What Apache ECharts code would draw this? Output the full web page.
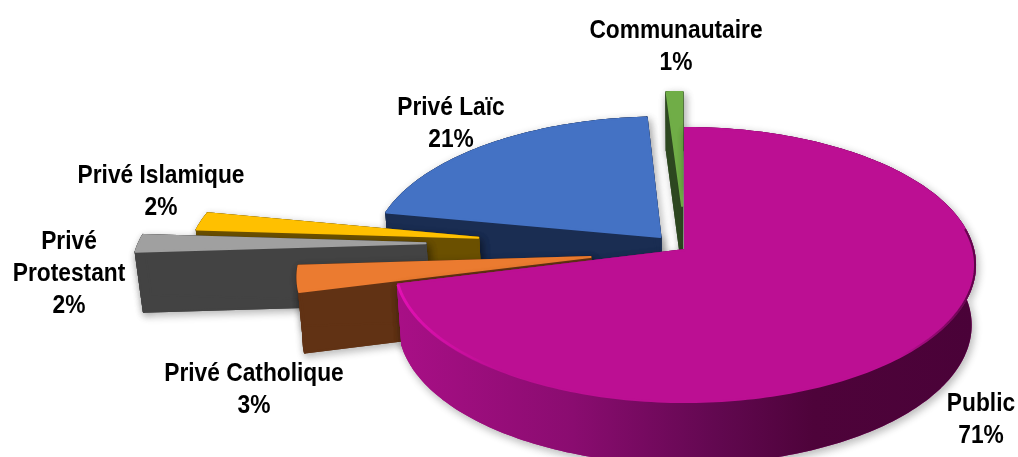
<!DOCTYPE html>
<html>
<head>
<meta charset="utf-8">
<style>
  html, body { margin: 0; padding: 0; background: #fff; }
  #chart { width: 1018px; height: 457px; }
</style>
<script src="https://cdn.jsdelivr.net/npm/echarts@6/dist/echarts.min.js"></script>
</head>
<body>
<div id="chart"></div>
<script>
// data, clockwise from 12 o'clock
const categories = ["Public", "Privé Catholique", "Privé\nProtestant", "Privé Islamique", "Privé Laïc", "Communautaire"];
const values = [71, 3, 2, 2, 21, 1];

// how far each slice is pulled out, in pie radii
const explode = [0, 0.33, 0.905, 0.73, 0.13, 0.338];
const lift = [0, 0, 0.05, 0, 0, 0]; // extra push towards the back
const topColors = ["#BC0F93", "#EB7B30", "#A0A0A0", "#FFC000", "#4472C4", "#70AD47"];
const sideColors = ["#A0107F", "#613214", "#434343", "#6B5000", "#1A2D52", "#2D4720"];
const labelPos = [[981, 388], [254, 358], [69, 226], [161, 160], [451, 92], [676, 15]];
const drawOrder = [5, 4, 3, 2, 1, 0]; // back to front

// projection of the tilted disc
const apexX = 685, apexY = 250, A = 288.3, B = 135.4, K = 0.1095;
const depth = 60, scaleBottomX = 0.985, scaleBottomY = 1.01;

function project(u, v, bottom) {
  const d = 1 + K * v;
  const x = A * u / d, y = -B * v / d;
  return bottom
    ? [apexX + scaleBottomX * x, apexY + depth + scaleBottomY * y]
    : [apexX + x, apexY + y];
}

const total = values.reduce((a, b) => a + b, 0);
function sliceAngles(i) {
  let before = 0;
  for (let j = 0; j < i; j++) before += values[j];
  return [before / total * 2 * Math.PI, (before + values[i]) / total * 2 * Math.PI];
}

function hGradient(x0, x1, stops) {
  return new echarts.graphic.LinearGradient(x0, 0, x1, 0, stops, true);
}

function renderSlice(params, api) {
  const i = api.value(0);
  const [a0, a1] = sliceAngles(i);
  const mid = (a0 + a1) / 2;
  const ou = explode[i] * Math.sin(mid), ov = explode[i] * Math.cos(mid) + lift[i];

  const arcTop = [], arcBottom = [], arcDeg = [];
  const steps = Math.max(2, Math.ceil((a1 - a0) / 0.02));
  for (let s = 0; s <= steps; s++) {
    const a = a0 + (a1 - a0) * s / steps;
    arcTop.push(project(ou + Math.sin(a), ov + Math.cos(a), false));
    arcBottom.push(project(ou + Math.sin(a), ov + Math.cos(a), true));
    arcDeg.push(a * 180 / Math.PI);
  }
  const apexTop = project(ou, ov, false), apexBottom = project(ou, ov, true);
  const last = arcTop.length - 1;

  const order = drawOrder.indexOf(i) * 10;
  const wallFill = i === 0
    ? hGradient(400, 975, [
        { offset: 0, color: "#A80F86" },
        { offset: 0.3, color: "#8A0C70" },
        { offset: 0.55, color: "#620850" },
        { offset: 0.72, color: "#4E033A" },
        { offset: 1, color: "#4A0238" }
      ])
    : sideColors[i];
  const faces = [
    arcTop.concat(arcBottom.slice().reverse()),
    [apexTop, arcTop[0], arcBottom[0], apexBottom],
    [apexTop, arcTop[last], arcBottom[last], apexBottom]
  ];
  const poly = (points, style, z2) => ({ type: "polygon", shape: { points }, style, z2, silent: true });

  const children = [];
  // soft shadow first, clean faces on top of it so no seams show
  faces.forEach(f => children.push(poly(f, {
    fill: sideColors[i], stroke: sideColors[i], lineWidth: 2, lineJoin: "round",
    shadowBlur: 9, shadowColor: "rgba(0,0,0,0.28)", shadowOffsetX: 2, shadowOffsetY: 3
  }, order)));
  faces.forEach(f => children.push(poly(f, {
    fill: wallFill, stroke: wallFill, lineWidth: 2, lineJoin: "round"
  }, order + 1)));
  children.push(poly([apexTop].concat(arcTop),
    { fill: topColors[i], stroke: topColors[i], lineWidth: 2, lineJoin: "round" }, order + 2));

  if (i === 0) {
    // bevel on the rim: light at the left end, dark at the right side
    const rim = (from, to, stroke, width) => ({
      type: "polyline",
      shape: { points: arcTop.filter((p, n) => arcDeg[n] >= from && arcDeg[n] <= to) },
      style: { fill: "none", lineWidth: width, stroke },
      z2: order + 3, silent: true
    });
    children.push(rim(195, 256, hGradient(400, 500, [
      { offset: 0, color: "rgba(225,16,178,1)" },
      { offset: 1, color: "rgba(225,16,178,0)" }
    ]), 3));
    children.push(rim(80, 150, hGradient(900, 975, [
      { offset: 0, color: "rgba(70,0,52,0)" },
      { offset: 1, color: "rgba(70,0,52,0.8)" }
    ]), 2));
  }

  children.push({
    type: "text",
    x: labelPos[i][0], y: labelPos[i][1],
    scaleX: 0.91,
    z2: 200, silent: true,
    style: {
      text: categories[i] + "\n" + values[i] + "%",
      fill: "#000", align: "center", verticalAlign: "top",
      font: "bold 25px 'Liberation Sans'", lineHeight: 32
    }
  });
  return { type: "group", children };
}

const chart = echarts.init(document.getElementById("chart"));
chart.setOption({
  animation: false,
  backgroundColor: "#fff",
  series: [{
    type: "custom",
    coordinateSystem: "none",
    renderItem: renderSlice,
    data: drawOrder.map(i => [i, values[i]])
  }]
});
</script>
</body>
</html>
